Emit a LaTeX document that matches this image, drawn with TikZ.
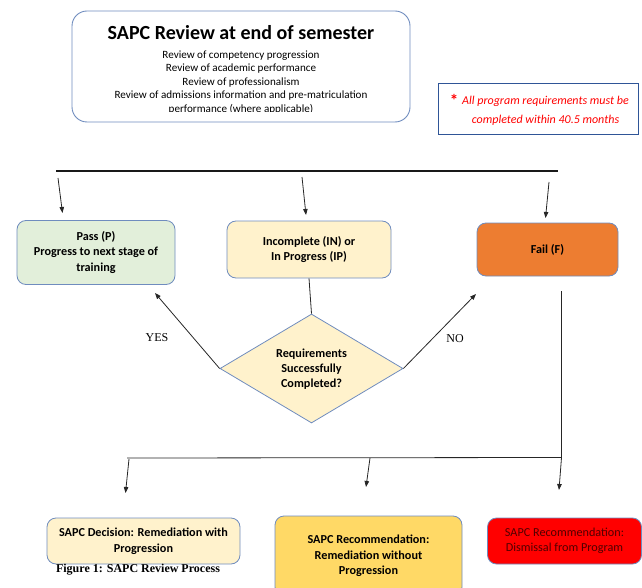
\documentclass[tikz,border=0pt]{standalone}
\usepackage{fontspec}
\setmainfont{Carlito}
\newfontfamily\serifont{Liberation Serif}
\usetikzlibrary{arrows.meta,shapes.geometric}
\definecolor{boxedge}{HTML}{6F8CBE}
\definecolor{noteedge}{HTML}{2F5597}
\definecolor{passfill}{HTML}{E2EFDA}
\definecolor{lightyellow}{HTML}{FFF2CC}
\definecolor{gold}{HTML}{FFD966}
\definecolor{failorange}{HTML}{ED7D31}
\definecolor{notered}{HTML}{FF0000}
\definecolor{darkred}{HTML}{500000}
\tikzset{
  roundbox/.style={draw=boxedge, line width=0.8pt, rounded corners=9pt, inner sep=0pt, align=center,
     font=\fontsize{12.2}{15.5}\selectfont\bfseries},
  arrowline/.style={draw=black!85, line width=0.8pt, -{Triangle[length=6pt,width=4.5pt]}},
  plainline/.style={draw=black!85, line width=0.8pt},
  serlabel/.style={font=\serifont\fontsize{12}{14}\selectfont, inner sep=0pt},
}
\begin{document}
\begin{tikzpicture}[x=1pt,y=-1pt]
\useasboundingbox (0,0) rectangle (642,588);
\clip (0,0) rectangle (642,588);
% top box
\node[draw=boxedge, line width=0.9pt, rounded corners=15pt, minimum width=338pt, minimum height=111pt, inner sep=0pt] (review) at (241,66.5) {};
\node[inner sep=0pt, font=\fontsize{20}{22}\selectfont\bfseries] (title) at (241,33) {SAPC Review at end of semester};
\begin{scope}
\clip (73,12) rectangle (409,111.5);
\node[inner sep=0pt, align=center, font=\fontsize{11.1}{13.5}\selectfont, anchor=north] (items) at (241,50.5)
 {Review of competency progression\\Review of academic performance\\Review of professionalism\\Review of admissions information and pre-matriculation\\performance (where applicable)};
\end{scope}
% note
\node[draw=noteedge, line width=0.8pt, minimum width=200pt, minimum height=51pt, inner sep=0pt] (note) at (538,108.5) {};
\node[inner sep=0pt, text=notered, font=\fontsize{17}{17}\selectfont\bfseries] (star) at (454,100) {*};
\node[inner sep=0pt, text=notered, align=center, font=\fontsize{12}{19}\selectfont\itshape] (notetext) at (545.5,111)
 {All program requirements must be\\completed within 40.5 months};
% top bar
\coordinate (barL) at (56,171);
\coordinate (barR) at (558,171);
\draw[line width=2pt, black!90] (barL) -- (barR);
% middle boxes
\node[roundbox, fill=passfill, minimum width=158pt, minimum height=64pt] (pass) at (96,252.5)
 {Pass (P)\\Progress to next stage of\\training};
\node[roundbox, fill=lightyellow, minimum width=164pt, minimum height=57pt] (incomplete) at (309,249.5)
 {Incomplete (IN) or\\In Progress (IP)};
\node[roundbox, fill=failorange, minimum width=141pt, minimum height=53pt] (fail) at (547.5,249.5)
 {Fail (F)};
\coordinate (a1s) at (58,178); \coordinate (a1e) at (62.5,213);
\coordinate (a2s) at (302,177); \coordinate (a2e) at (306,215);
\coordinate (a3s) at (549,182); \coordinate (a3e) at (545.5,218);
\draw[arrowline] (a1s) -- (a1e);
\draw[arrowline] (a2s) -- (a2e);
\draw[arrowline] (a3s) -- (a3e);
% diamond
\node[draw=boxedge, line width=0.8pt, fill=lightyellow, shape=diamond, aspect=1.68, minimum width=183pt, minimum height=109pt, inner sep=0pt] (decide) at (311.5,368.5) {};
\node[inner sep=0pt, align=center, font=\fontsize{12.2}{15}\selectfont\bfseries] (decidetext) at (311.5,369) {Requirements\\Successfully\\Completed?};
\draw[plainline] (incomplete.south) -- (decide.north);
\coordinate (yesend) at (155,293);
\coordinate (noend) at (476,294);
\draw[arrowline] (decide.west) -- (yesend);
\draw[arrowline] (decide.east) -- (noend);
\node[serlabel] (yes) at (157,338) {YES};
\node[serlabel] (no) at (455,339) {NO};
% fail branch
\coordinate (fdrop) at (561.5,291);
\coordinate (fcorner) at (561.5,457.5);
\coordinate (lowL) at (127,458);
\draw[plainline] (fdrop) -- (fcorner) -- (lowL);
\coordinate (b1s) at (129,459); \coordinate (b1e) at (125.5,493);
\coordinate (b2s) at (370,458); \coordinate (b2e) at (366,487);
\coordinate (b3e) at (559,490);
\draw[arrowline] (b1s) -- (b1e);
\draw[arrowline] (b2s) -- (b2e);
\draw[arrowline] (fcorner) -- (b3e);
% bottom boxes
\node[roundbox, fill=lightyellow, minimum width=193pt, minimum height=46pt] (decision) at (143.5,541)
 {SAPC Decision: Remediation with\\Progression};
\node[roundbox, fill=gold, minimum width=187pt, minimum height=80pt] (recommend) at (368.5,556)
 {SAPC Recommendation:\\Remediation without\\Progression};
\node[roundbox, fill=notered, text=darkred, font=\fontsize{12.2}{15.5}\selectfont, minimum width=154pt, minimum height=46pt] (dismiss) at (564.5,541)
 {SAPC Recommendation:\\Dismissal from Program};
\node[inner sep=0pt, font=\serifont\fontsize{12}{14}\selectfont\bfseries] (caption) at (138,570) {Figure 1: SAPC Review Process};
\end{tikzpicture}
\end{document}
